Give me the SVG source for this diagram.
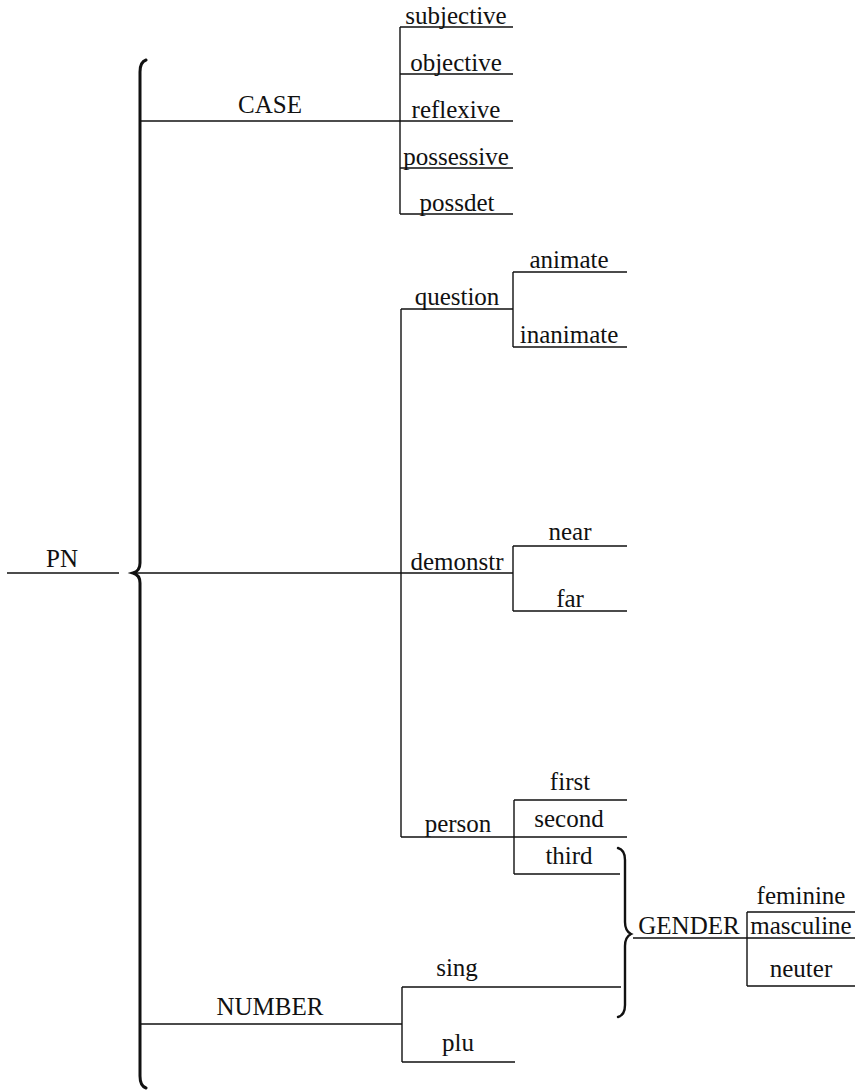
<svg xmlns="http://www.w3.org/2000/svg" width="855" height="1090" viewBox="0 0 855 1090">
<style>
text{font-family:"Liberation Serif","Times New Roman",serif;font-size:25px;fill:#111;text-anchor:middle}
.ln{stroke:#111;stroke-width:1.4;fill:none}
.br{stroke:#111;stroke-width:3;fill:none;stroke-linecap:round}
.br2{stroke:#111;stroke-width:2.4;fill:none;stroke-linecap:round}
</style>
<rect width="855" height="1090" fill="#fff"/>
<g id="connectors">
<path class="br" d="M146,60 Q140,62 140,72 L140,563 Q140,571 133,573 Q140,575 140,583 L140,1076 Q140,1086 146,1088"/>
<path class="br2" d="M618,848 Q625,850 625,860 L625,922 Q625,931 631,934 Q625,937 625,946 L625,1005 Q625,1015 618,1017"/>
<path class="ln" d="M7,573 H119"/>
<path class="ln" d="M140,121 H513"/>
<path class="ln" d="M400,27 V214"/>
<path class="ln" d="M400,27 H513 M400,74 H513 M400,168 H513 M400,214 H513"/>
<path class="ln" d="M401,309 V837"/>
<path class="ln" d="M401,309 H513 M513,272 V347 M513,272 H627 M513,347 H627"/>
<path class="ln" d="M133,573 H513 M513,546 V611 M513,546 H627 M513,611 H627"/>
<path class="ln" d="M401,837 H627 M514,800 V874 M514,800 H627 M514,874 H620"/>
<path class="ln" d="M140,1024 H402 M402,987 V1062 M402,987 H621 M402,1062 H515"/>
<path class="ln" d="M633,938 H855 M747,912 V986 M747,912 H855 M747,986 H855"/>
</g>
<g id="PN"><text x="62" y="567">PN</text></g>
<g id="CASE"><text x="270" y="113">CASE</text></g>
<g id="subjective"><text x="456" y="24">subjective</text></g>
<g id="objective"><text x="456" y="71">objective</text></g>
<g id="reflexive"><text x="456" y="118">reflexive</text></g>
<g id="possessive"><text x="456" y="165">possessive</text></g>
<g id="possdet"><text x="457" y="211">possdet</text></g>
<g id="question"><text x="457" y="305">question</text></g>
<g id="animate"><text x="569" y="268">animate</text></g>
<g id="inanimate"><text x="569" y="343">inanimate</text></g>
<g id="demonstr"><text x="457" y="570">demonstr</text></g>
<g id="near"><text x="570" y="540">near</text></g>
<g id="far"><text x="570" y="607">far</text></g>
<g id="person"><text x="458" y="832">person</text></g>
<g id="first"><text x="570" y="790">first</text></g>
<g id="second"><text x="569" y="827">second</text></g>
<g id="third"><text x="569" y="864">third</text></g>
<g id="GENDER"><text x="689" y="934">GENDER</text></g>
<g id="feminine"><text x="801" y="904">feminine</text></g>
<g id="masculine"><text x="801" y="934">masculine</text></g>
<g id="neuter"><text x="801" y="977">neuter</text></g>
<g id="NUMBER"><text x="270" y="1015">NUMBER</text></g>
<g id="sing"><text x="457" y="976">sing</text></g>
<g id="plu"><text x="458" y="1051">plu</text></g>
</svg>
